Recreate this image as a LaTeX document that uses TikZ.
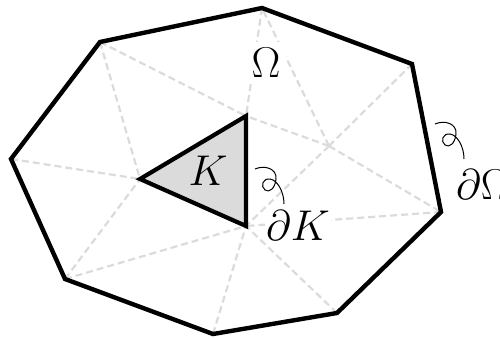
\documentclass[tikz,border=0pt]{standalone}
\newcommand\biglab[1]{\scalebox{1.73}{$#1$}}
\begin{document}
\begin{tikzpicture}[x=1pt,y=-1pt,
  mesh/.style={draw=black!14, line width=2.2pt, dash pattern=on 7pt off 4pt},
  bnd/.style={draw=black, line width=4.4pt, line join=miter},
  elem/.style={draw=black, fill=black!14, line width=4.2pt, line join=miter},
  lab/.style={font=\Huge},
  curlline/.style={draw=black, line width=1pt},
  curl/.pic={\draw[curlline] (0,0) .. controls (9,-4) and (22,-1) .. (21,10)
      .. controls (20,20) and (14,24) .. (10,21)
      .. controls (5,17) and (8,9) .. (15,10)
      .. controls (22,11) and (29,22) .. (29,35);}
]
\useasboundingbox (0,0) rectangle (500,339);
% domain vertices
\coordinate (A) at (100,42);
\coordinate (B) at (262,8);
\coordinate (C) at (412,64);
\coordinate (D) at (441,212);
\coordinate (E) at (337,313);
\coordinate (F) at (213,334);
\coordinate (G) at (65,279);
\coordinate (H) at (11,159);
% element vertices
\coordinate (T1) at (140,179);
\coordinate (T2) at (246,116);
\coordinate (T3) at (246,226);
\coordinate (M) at (329,146);
% mesh
\draw[mesh] (A) -- (T2);
\draw[mesh] (A) -- (T1);
\draw[mesh] (H) -- (T1);
\draw[mesh] (G) -- (T1);
\draw[mesh] (G) -- (T3);
\draw[mesh] (F) -- (T3);
\draw[mesh] (E) -- (T3);
\draw[mesh] (D) -- (T3);
\draw[mesh] (M) -- (T3);
\draw[mesh] (M) -- (T2);
\draw[mesh] (M) -- (D);
\draw[mesh] (M) -- (C);
\draw[mesh] (M) -- (B);
\draw[mesh] (B) -- (T2);
% boundary
\draw[bnd] (A) -- (B) -- (C) -- (D) -- (E) -- (F) -- (G) -- (H) -- cycle;
% element
\draw[elem] (T1) -- (T2) -- (T3) -- cycle;
% labels
\node[lab, fill=white, inner sep=6pt] (om) at (266,63) {\biglab{\Omega}};
\node[lab, inner sep=0pt] (k) at (208,171) {\biglab{K}};
\node[lab, fill=white, inner sep=1pt] (dk) at (298,226) {\biglab{\partial K}};
\node[lab, anchor=west, inner sep=0pt] (do) at (456,185) {\biglab{\partial\Omega}};
% curls
\coordinate (c1) at (255,169);
\coordinate (c2) at (435,124);
\pic at (c1) {curl};
\pic at (c2) {curl};
\end{tikzpicture}
\end{document}
